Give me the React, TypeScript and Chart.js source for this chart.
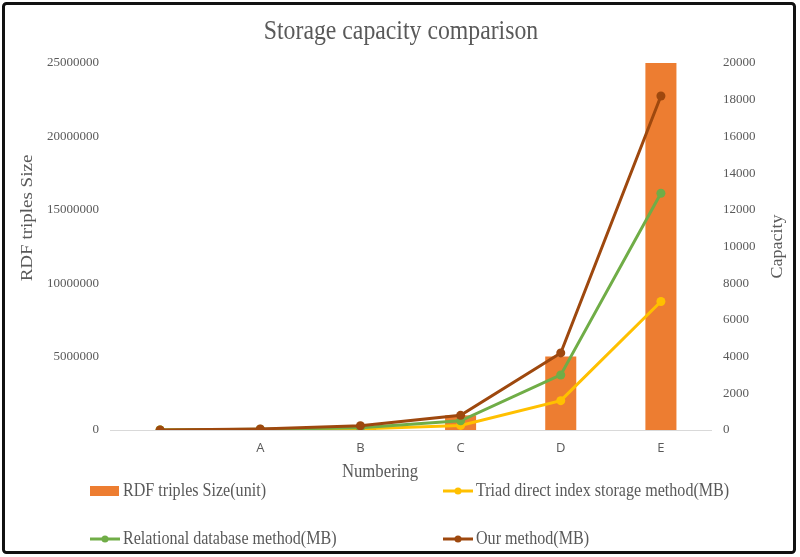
import React, { useEffect, useRef } from "react";
import { Chart, registerables } from "chart.js";

Chart.register(...registerables);

const categories = ["", "A", "B", "C", "D", "E"];
const rdfTriplesSize = [1000, 10000, 100000, 1000000, 5000000, 25000000];
const triadDirectIndex = [0, 20, 60, 250, 1600, 7000];
const relationalDatabase = [0, 40, 120, 500, 3000, 12900];
const ourMethod = [0, 60, 230, 800, 4200, 18200];

const leftTicks = [0, 5000000, 10000000, 15000000, 20000000, 25000000];
const rightTicks = [0, 2000, 4000, 6000, 8000, 10000, 12000, 14000, 16000, 18000, 20000];

const titleText = "Storage capacity comparison";
const leftTitle = "RDF triples Size";
const rightTitle = "Capacity";
const xTitle = "Numbering";

const GRAY = "#595959";
const SERIF = "'Liberation Serif', 'Times New Roman', serif";
const SANS = "'Open Sans', 'Liberation Sans', sans-serif";
const SQUEEZE = 0.88;

function squeezedText(
  ctx: CanvasRenderingContext2D,
  text: string,
  x: number,
  y: number,
  size: number,
  align: CanvasTextAlign
) {
  ctx.save();
  ctx.translate(x, y);
  ctx.scale(SQUEEZE, 1);
  ctx.font = `${size}px ${SERIF}`;
  ctx.textAlign = align;
  ctx.textBaseline = "middle";
  ctx.fillText(text, 0, 0);
  ctx.restore();
}

const decorPlugin = {
  id: "decor",
  afterDraw(chart: any) {
    const ctx = chart.ctx as CanvasRenderingContext2D;
    const area = chart.chartArea;
    ctx.save();
    // frame
    ctx.strokeStyle = "#111";
    ctx.lineWidth = 3;
    ctx.beginPath();
    (ctx as any).roundRect ? (ctx as any).roundRect(3.5, 3.5, 791, 549, 3) : ctx.rect(3.5, 3.5, 791, 549);
    ctx.stroke();

    ctx.fillStyle = GRAY;
    squeezedText(ctx, titleText, 401, 32, 27, "center");
    squeezedText(ctx, xTitle, 380, 472, 19, "center");

    // left title
    ctx.save();
    ctx.translate(28, 218);
    ctx.rotate(-Math.PI / 2);
    ctx.scale(1, SQUEEZE);
    ctx.font = `19px ${SERIF}`;
    ctx.textAlign = "center";
    ctx.textBaseline = "middle";
    ctx.fillText(leftTitle, 0, 0);
    ctx.restore();
    // right title
    ctx.save();
    ctx.translate(778, (area.top + area.bottom) / 2);
    ctx.rotate(-Math.PI / 2);
    ctx.scale(1, SQUEEZE);
    ctx.font = `18px ${SERIF}`;
    ctx.textAlign = "center";
    ctx.textBaseline = "middle";
    ctx.fillText(rightTitle, 0, 0);
    ctx.restore();

    // legend
    const cols = [90, 443];
    const rows = [491, 539];
    const ds = chart.data.datasets;
    const layout = [
      [0, 0, 0],
      [1, 1, 0],
      [2, 0, 1],
      [3, 1, 1],
    ];
    layout.forEach(([i, c, r]) => {
      const d = ds[i];
      const x = cols[c];
      const y = rows[r];
      if (d.type === "bar") {
        ctx.fillStyle = d.backgroundColor;
        ctx.fillRect(x, y - 5, 29, 10);
      } else {
        ctx.strokeStyle = d.borderColor;
        ctx.lineWidth = 3;
        ctx.beginPath();
        ctx.moveTo(x, y);
        ctx.lineTo(x + 30, y);
        ctx.stroke();
        ctx.fillStyle = d.borderColor;
        ctx.beginPath();
        ctx.arc(x + 15, y, 3.5, 0, Math.PI * 2);
        ctx.fill();
      }
      ctx.fillStyle = GRAY;
      squeezedText(ctx, d.label, x + 33, y, 18.3, "left");
    });
    ctx.restore();
  },
};

export default function App() {
  const ref = useRef<HTMLCanvasElement>(null);
  useEffect(() => {
    if (!ref.current) return;
    const chart = new Chart(ref.current, {
      type: "bar",
      data: {
        labels: categories,
        datasets: [
          {
            type: "bar",
            label: "RDF triples Size(unit)",
            data: rdfTriplesSize,
            backgroundColor: "#ED7D31",
            yAxisID: "y",
            order: 10,
            barPercentage: 0.31,
            categoryPercentage: 1,
          } as any,
          {
            type: "line",
            label: "Triad direct index storage method(MB)",
            data: triadDirectIndex,
            borderColor: "#FFC000",
            backgroundColor: "#FFC000",
            borderWidth: 3,
            pointRadius: 4.5,
            pointBorderWidth: 0,
            yAxisID: "y1",
            order: 3,
          },
          {
            type: "line",
            label: "Relational database method(MB)",
            data: relationalDatabase,
            borderColor: "#70AD47",
            backgroundColor: "#70AD47",
            borderWidth: 3,
            pointRadius: 4.5,
            pointBorderWidth: 0,
            yAxisID: "y1",
            order: 2,
          },
          {
            type: "line",
            label: "Our method(MB)",
            data: ourMethod,
            borderColor: "#9E480E",
            backgroundColor: "#9E480E",
            borderWidth: 3,
            pointRadius: 4.5,
            pointBorderWidth: 0,
            yAxisID: "y1",
            order: 1,
          },
        ],
      },
      options: {
        animation: false,
        responsive: false,
        maintainAspectRatio: false,
        layout: { padding: { left: 0, right: 0, top: 63, bottom: 97 } },
        plugins: {
          legend: { display: false },
          title: { display: false },
          tooltip: { enabled: false },
        },
        scales: {
          x: {
            offset: true,
            grid: { display: false, drawTicks: false },
            border: { display: true, color: "#D9D9D9", width: 1 },
            ticks: { color: GRAY, font: { family: SANS, size: 13 }, padding: 10 },
            afterFit: (s: any) => {
              s.height = 30;
            },
          },
          y: {
            position: "left",
            min: 0,
            max: 25000000,
            afterBuildTicks: (s: any) => {
              s.ticks = leftTicks.map((v) => ({ value: v }));
            },
            grid: { display: false, drawTicks: false },
            border: { display: false },
            ticks: {
              color: GRAY,
              font: { family: SERIF, size: 13 },
              padding: 11,
              callback: (v: any) => String(v),
            },
            afterFit: (s: any) => {
              s.width = 110;
            },
          },
          y1: {
            position: "right",
            min: 0,
            max: 20000,
            afterBuildTicks: (s: any) => {
              s.ticks = rightTicks.map((v) => ({ value: v }));
            },
            grid: { display: false, drawTicks: false },
            border: { display: false },
            ticks: {
              color: GRAY,
              font: { family: SERIF, size: 13 },
              padding: 12,
              callback: (v: any) => String(v),
            },
            afterFit: (s: any) => {
              s.width = 89;
            },
          },
        },
      },
      plugins: [decorPlugin],
    });
    return () => chart.destroy();
  }, []);
  return (
    <div style={{ position: "fixed", left: 0, top: 0, width: 800, height: 557, background: "#fff" }}>
      <canvas ref={ref} width={800} height={557} style={{ display: "block" }} />
    </div>
  );
}
